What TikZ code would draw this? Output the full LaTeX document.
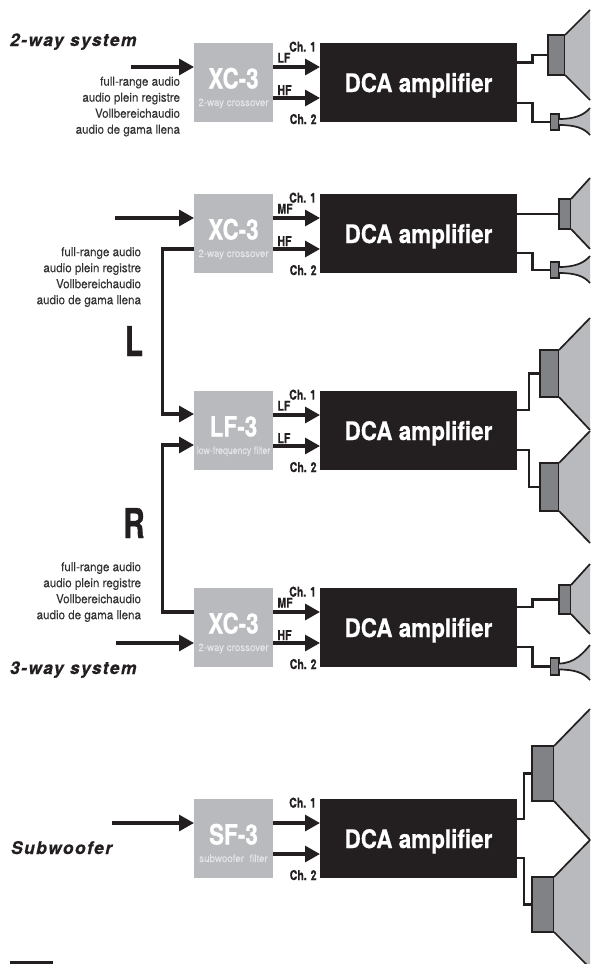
\documentclass[tikz,border=0pt]{standalone}
\usepackage{fontspec}
\usepackage{graphicx}
\usetikzlibrary{arrows.meta,calc}
\setmainfont{TeX Gyre Heros}
\newfontfamily\fLab[FakeStretch=0.92,FakeBold=0.15]{TeX Gyre Heros}
\newfontfamily\fSub[FakeStretch=0.93,FakeBold=0.15]{TeX Gyre Heros}
\newfontfamily\fCh[FakeStretch=0.78,FakeBold=0.6]{TeX Gyre Heros Bold}
\newfontfamily\fAmp[FakeStretch=0.88,FakeBold=0.5]{TeX Gyre Heros Bold}
\newfontfamily\fTitle[FakeStretch=0.8,FakeBold=0.6]{TeX Gyre Heros Bold}
\newfontfamily\fBig[FakeStretch=0.72,FakeBold=0.8]{TeX Gyre Heros Bold}
\newfontfamily\fSys[LetterSpace=8,FakeBold=0.4]{TeX Gyre Heros Bold Italic}
\definecolor{ink}{HTML}{231F20}
\definecolor{boxgray}{HTML}{B9BABD}
\definecolor{drvgray}{HTML}{808285}
\definecolor{subtxt}{HTML}{E4E5E7}
\definecolor{labtxt}{HTML}{333335}
\tikzset{
  every node/.style={inner sep=0pt,outer sep=0pt},
  xbox/.style={fill=boxgray,minimum width=79pt,minimum height=79pt},
  ampbox/.style={fill=ink,minimum width=197pt,minimum height=79pt},
  sig/.style={draw=ink,line width=3.2pt},
  sigarrow/.style={sig,-{Triangle[length=15pt,width=16pt]}},
  wire/.style={draw=ink,line width=2.2pt,line join=miter},
  drv/.style={draw=ink,fill=drvgray,line width=1.9pt},
  hornedge/.style={draw=ink,line width=1.7pt},
  chlab/.style={font=\fCh\fontsize{13.5}{12}\selectfont,text=ink,anchor=base east},
  oulab/.style={font=\fCh\fontsize{13.5}{12}\selectfont,text=ink,anchor=base west},
  syslab/.style={font=\fSys\fontsize{17.5}{16}\selectfont,text=ink,anchor=base west},
  biglab/.style={font=\fBig\fontsize{41}{41}\selectfont,text=ink,anchor=base},
  inlab/.style={font=\fLab\fontsize{12.6}{16}\selectfont,text=labtxt,anchor=north east,align=right},
}
% n, top, title, subtitle, out label 1, out label 2
\newcommand{\ampblock}[6]{
  \node[xbox] (box#1) at (233.5,#2+39.5) {};
  \node[ampbox] (amp#1) at (418.5,#2+39.5) {};
  \node[anchor=base,text=white,font=\fTitle\fontsize{28}{26}\selectfont] (title#1) at (233.5,#2+45.5) {#3};
  \node[anchor=base,text=subtxt,font=\fSub\fontsize{10.5}{10}\selectfont] (sub#1) at (233.5,#2+63) {#4};
  \node[anchor=base,text=white,font=\fAmp\fontsize{25.5}{25}\selectfont] (dca#1) at (418.5,#2+49) {DCA amplifier};
  \node[chlab] (chA#1) at (316,#2+8.6) {Ch. 1};
  \node[chlab] (chB#1) at (316.5,#2+81) {Ch. 2};
  \node[oulab] (ouA#1) at (277.5,#2+19.7) {#5};
  \node[oulab] (ouB#1) at (277.5,#2+52) {#6};
  \draw[sigarrow] ($(box#1.north east)+(0,24)$) -- ($(amp#1.north west)+(0,24)$);
  \draw[sigarrow] ($(box#1.north east)+(0,55)$) -- ($(amp#1.north west)+(0,55)$);
}
% name, x1, y1, x2, y2
\newcommand{\driver}[5]{
  \node[drv,minimum width={#4-#2},minimum height={#5-#3}] (#1) at ({(#2+#4)/2},{(#3+#5)/2}) {};
}
% driver name, end y top, end y bottom
\newcommand{\bighorn}[3]{
  \fill[boxgray] (#1.north east) -- (590,#2) -- (590,#3) -- (#1.south east) -- cycle;
  \draw[hornedge] (#1.north east) -- (590,#2);
  \draw[hornedge] (#1.south east) -- (590,#3);
}
% driver name, end y top, end y bottom
\newcommand{\smallhorn}[3]{
  \path let \p1=(#1.east) in coordinate (hA) at (\x1,\y1+3pt) coordinate (hB) at (\x1,\y1-3pt);
  \fill[boxgray] (hA) .. controls ($(hA)+(16,0)$) and ($(590,#2)+(-6,7)$) .. (590,#2) -- (590,#3) .. controls ($(590,#3)+(-6,-7)$) and ($(hB)+(16,0)$) .. (hB) -- cycle;
  \draw[hornedge] (hA) .. controls ($(hA)+(16,0)$) and ($(590,#2)+(-6,7)$) .. (590,#2);
  \draw[hornedge] (hB) .. controls ($(hB)+(16,0)$) and ($(590,#3)+(-6,-7)$) .. (590,#3);
}
\begin{document}
\begin{tikzpicture}[x=1pt,y=-1pt]
\useasboundingbox (0,0) rectangle (590,964);
% Blocks
\ampblock{1}{43}{XC-3}{2-way crossover}{LF}{HF}
\ampblock{2}{194}{XC-3}{2-way crossover}{MF}{HF}
\ampblock{3}{391}{LF-3}{\scalebox{0.9}[1]{low-frequency filter}}{LF}{LF}
\ampblock{4}{588}{XC-3}{2-way crossover}{MF}{HF}
\ampblock{5}{799}{SF-3}{subwoofer\ \ filter}{}{}
% Inputs
\coordinate (in1) at (131,67);
\coordinate (in2) at (115,218);
\coordinate (in4) at (116,643);
\coordinate (in5) at (112,823);
\draw[sigarrow] (in1) -- ($(box1.north west)+(0,24)$);
\draw[sigarrow] (in2) -- ($(box2.north west)+(0,24)$);
\draw[sigarrow] (in4) -- ($(box4.north west)+(0,55)$);
\draw[sigarrow] (in5) -- ($(box5.north west)+(0,24)$);
\coordinate (busL) at (162.5,414);
\coordinate (busR) at (162.5,445);
\draw[sigarrow] ($(box2.north west)+(0,55)$) -| (busL) -- ($(box3.north west)+(0,23)$);
\draw[sigarrow] ($(box4.north west)+(0,24)$) -| (busR) -- ($(box3.north west)+(0,54)$);
% Text
\node[syslab] (sys2) at (10,46) {2-way system};
\node[syslab] (sys3) at (10,674) {3-way system};
\node[syslab] (syssub) at (11,854) {Subwoofer};
\node[biglab] (chL) at (134,356) {L};
\node[biglab] (chR) at (134,538) {R};
\node[inlab] (lab1) at (180,76.5) {full-range audio\\audio plein registre\\Vollbereichaudio\\audio de gama llena};
\node[inlab] (lab2) at (141,247) {full-range audio\\audio plein registre\\Vollbereichaudio\\audio de gama llena};
\node[inlab] (lab4) at (141,562) {full-range audio\\audio plein registre\\Vollbereichaudio\\audio de gama llena};
% Drivers
\driver{d1a}{548}{35}{565}{75}
\driver{d1b}{550.5}{114}{559}{130}
\driver{d2a}{559}{199}{571}{229}
\driver{d2b}{550.5}{262}{559}{278}
\driver{d3a}{540}{350}{559}{397}
\driver{d3b}{540}{463}{559}{511}
\driver{d4a}{559}{585}{571}{614}
\driver{d4b}{550.5}{658}{559}{675}
\driver{d5a}{532}{746}{554}{801}
\driver{d5b}{532}{877}{554}{932}
% Horns
\bighorn{d1a}{10}{100}
\smallhorn{d1b}{108}{135}
\bighorn{d2a}{178}{249}
\smallhorn{d2b}{256}{283}
\bighorn{d3a}{318}{430}
\bighorn{d3b}{431}{543}
\bighorn{d4a}{564}{634}
\smallhorn{d4b}{645}{680}
\bighorn{d5a}{709}{840}
\bighorn{d5b}{840}{968}
% Wires
\draw[wire] ($(amp1.north east)+(0,19.5)$) -- ++(15.5,0) |- (d1a.west);
\draw[wire] ($(amp1.north east)+(0,60)$) -- ++(15.5,0) |- (d1b.west);
\draw[wire] ($(amp2.north east)+(0,20)$) -- (d2a.west);
\draw[wire] ($(amp2.north east)+(0,59)$) -- ++(15.5,0) |- (d2b.west);
\draw[wire] ($(amp3.north east)+(0,19)$) -- ++(12,0) |- (d3a.west);
\draw[wire] ($(amp3.north east)+(0,59)$) -- ++(12,0) |- (d3b.west);
\draw[wire] ($(amp4.north east)+(0,19)$) -- ++(15.5,0) |- (d4a.west);
\draw[wire] ($(amp4.north east)+(0,59)$) -- ++(15.5,0) |- (d4b.west);
\draw[wire] ($(amp5.north east)+(0,20)$) -- ++(7,0) |- (d5a.west);
\draw[wire] ($(amp5.north east)+(0,59)$) -- ++(7,0) |- (d5b.west);
% Bottom rule
\fill[ink] (10,961) rectangle (53,964);
\end{tikzpicture}
\end{document}
